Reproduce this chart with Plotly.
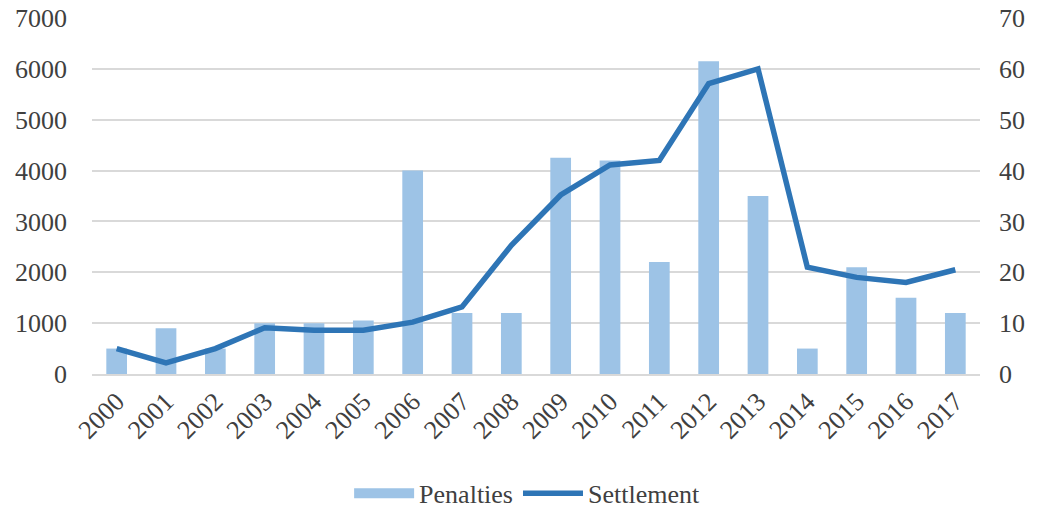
import plotly.graph_objects as go

years = [str(y) for y in range(2000, 2018)]
penalties = [500, 900, 500, 1000, 1000, 1050, 4000, 1200, 1200, 4250,
             4200, 2200, 6150, 3500, 500, 2100, 1500, 1200]
settlement = [5, 2.2, 5, 9.1, 8.6, 8.6, 10.2, 13.2, 25.3, 35.2,
              41.1, 42, 57.1, 60, 21, 19, 18, 20.5]

font_family = "Liberation Serif"
text_color = "#404040"
bar_color = "#9DC3E6"
line_color = "#2E75B6"
fsize = 26

fig = go.Figure()
fig.add_trace(go.Bar(
    x=years, y=penalties, name="Penalties",
    marker=dict(color=bar_color, line=dict(width=0)),
    yaxis="y", showlegend=False,
))
# legend key for the bars: a wide flat swatch
fig.add_trace(go.Scatter(
    x=[None], y=[None], name="Penalties", mode="lines",
    line=dict(color=bar_color, width=16), yaxis="y", showlegend=True,
))
fig.add_trace(go.Scatter(
    x=years, y=settlement, name="Settlement", mode="lines",
    line=dict(color=line_color, width=5.5),
    yaxis="y2",
))

fig.update_layout(
    width=1044, height=511,
    margin=dict(l=92, r=64, t=18, b=137, autoexpand=False),
    paper_bgcolor="white", plot_bgcolor="white",
    font=dict(family=font_family, size=fsize, color=text_color),
    bargap=0.58,
    showlegend=True,
    legend=dict(orientation="h", x=0.49, xanchor="center", y=-0.335, yanchor="middle",
                font=dict(family=font_family, size=fsize, color=text_color),
                traceorder="normal", itemwidth=60),
    xaxis=dict(
        type="category", tickangle=-45, showgrid=False, showline=True,
        linecolor="#D9D9D9", linewidth=2, ticks="",
        tickfont=dict(family=font_family, size=fsize), automargin=False,
    ),
    yaxis=dict(
        range=[0, 7000], dtick=1000, showgrid=True, gridcolor="#D9D9D9",
        gridwidth=2, zeroline=False, showline=False, ticks="",
        ticklabelstandoff=24, tickfont=dict(family=font_family, size=fsize),
        automargin=False,
    ),
    yaxis2=dict(
        range=[0, 70], dtick=10, overlaying="y", side="right",
        showgrid=False, zeroline=False, showline=False, ticks="",
        ticklabelstandoff=18, tickfont=dict(family=font_family, size=fsize),
        automargin=False,
    ),
)

fig.write_html("out.html")
